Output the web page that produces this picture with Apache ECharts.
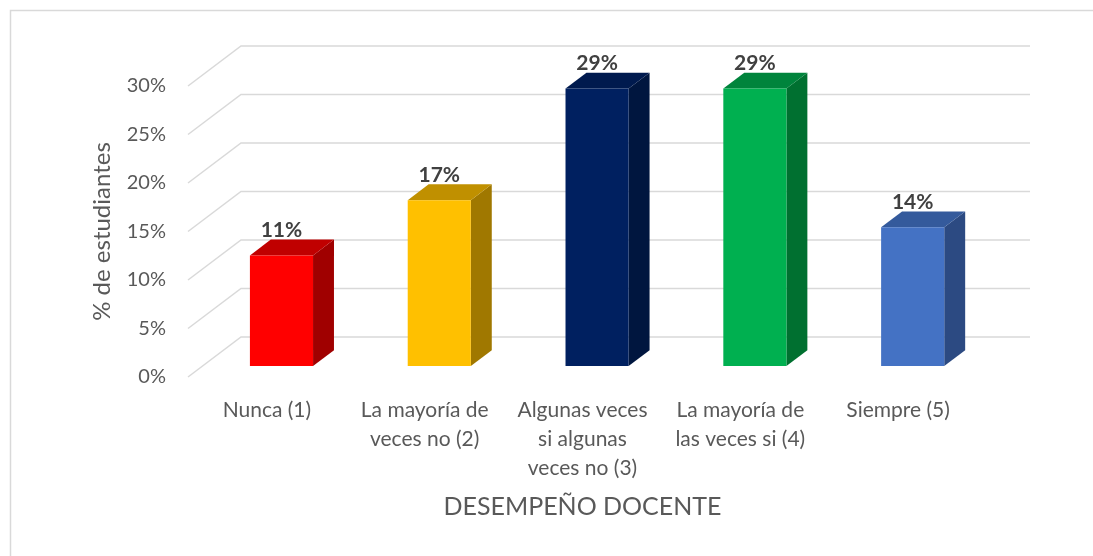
<!DOCTYPE html>
<html>
<head>
<meta charset="utf-8">
<script src="https://cdn.jsdelivr.net/npm/echarts@6/dist/echarts.min.js"></script>
<style>
  html, body { margin: 0; padding: 0; background: #fff; }
  #chart { width: 1093px; height: 556px; }
</style>
</head>
<body>
<div id="chart"></div>
<script>
// datos
var categorias = [
  'Nunca (1)',
  'La mayoría de\nveces no (2)',
  'Algunas veces\nsi algunas\nveces no (3)',
  'La mayoría de\nlas veces si (4)',
  'Siempre (5)'
];
var porcentajes = [0.114, 0.171, 0.286, 0.286, 0.143];
var yTicks = [0, 0.05, 0.10, 0.15, 0.20, 0.25, 0.30];

// colores: frente, arriba, lado
var colores = [
  ['#FF0000', '#C00000', '#A00000'],
  ['#FFC000', '#C09000', '#A07800'],
  ['#002060', '#001A4E', '#00163F'],
  ['#00B050', '#00843C', '#007030'],
  ['#4472C4', '#345A9C', '#2C4A82']
];

var DX = 53, DY = -40;   // profundidad del piso
var FONT = 'Lato';

var dom = document.getElementById('chart');
var myChart = echarts.init(dom);

function renderGrid(params, api) {
  var cs = params.coordSys;
  var p = api.coord([0, api.value(1)]);
  var y = p[1];
  return {
    type: 'polyline',
    shape: { points: [[cs.x, y], [cs.x + DX, y + DY], [cs.x + cs.width + DX, y + DY]] },
    style: { stroke: '#d9d9d9', lineWidth: 1.5, fill: null },
    silent: true
  };
}

function renderBar(params, api) {
  var idx = api.value(0);
  var v = api.value(1);
  var base = api.coord([idx, 0]);
  var top = api.coord([idx, v]);
  var band = api.size([1, 0])[0];
  var w = band * 0.4;
  var f0 = 0.275, f1 = 0.67;
  var ox = DX * f0, oy = DY * f0;
  var dx = DX * (f1 - f0), dy = DY * (f1 - f0);
  var x0 = base[0] - w / 2 + ox, x1 = base[0] + w / 2 + ox;
  var yb = base[1] + oy, yt = top[1] + oy;
  var c = colores[idx];
  return {
    type: 'group',
    children: [
      { type: 'polygon', shape: { points: [[x1, yt], [x1 + dx, yt + dy], [x1 + dx, yb + dy], [x1, yb]] },
        style: { fill: c[2] } },
      { type: 'polygon', shape: { points: [[x0, yt], [x1, yt], [x1 + dx, yt + dy], [x0 + dx, yt + dy]] },
        style: { fill: c[1] } },
      { type: 'rect', shape: { x: x0, y: yt, width: w, height: yb - yt },
        style: { fill: c[0] } },
      { type: 'text', x: (x0 + x1) / 2, y: yt + dy + 1,
        style: { text: Math.round(v * 100) + '%', align: 'center', verticalAlign: 'bottom',
          fill: '#404040', font: 'bold 21px ' + FONT } }
    ]
  };
}

var option = {
  backgroundColor: '#fff',
  animation: false,
  graphic: [{
    type: 'rect', left: 8, top: 8,
    shape: { width: 1100, height: 560 },
    style: { fill: null, stroke: '#d9d9d9', lineWidth: 1.5 }
  }],
  grid: { left: 188, right: 116, top: 86, bottom: 179 },
  xAxis: {
    type: 'category',
    data: categorias,
    axisLine: { show: false },
    axisTick: { show: false },
    axisLabel: { color: '#595959', fontFamily: FONT, fontSize: 21, lineHeight: 29, margin: 19, interval: 0 },
    name: 'DESEMPEÑO DOCENTE',
    nameLocation: 'middle',
    nameGap: 117,
    nameTextStyle: { color: '#595959', fontFamily: FONT, fontSize: 25 }
  },
  yAxis: {
    type: 'value',
    min: 0, max: 0.30, interval: 0.05,
    axisLine: { show: false },
    axisTick: { show: false },
    splitLine: { show: false },
    axisLabel: {
      color: '#595959', fontFamily: FONT, fontSize: 20, margin: 22, padding: [5, 0, 0, 0],
      formatter: function (v) { return Math.round(v * 100) + '%'; }
    },
    name: '% de estudiantes',
    nameLocation: 'middle',
    nameGap: 74,
    nameTextStyle: { color: '#595959', fontFamily: FONT, fontSize: 24 }
  },
  series: [
    {
      type: 'custom',
      renderItem: renderGrid,
      data: yTicks.map(function (t) { return [0, t]; }),
      z: 1,
      silent: true
    },
    {
      type: 'custom',
      renderItem: renderBar,
      data: porcentajes.map(function (p, i) { return [i, p]; }),
      z: 2
    }
  ]
};

myChart.setOption(option);
</script>
</body>
</html>
